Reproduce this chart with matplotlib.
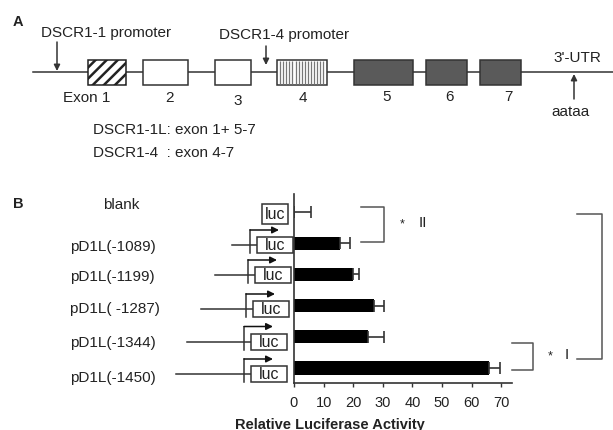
import matplotlib
matplotlib.use('Agg')
import matplotlib.pyplot as plt
from matplotlib.patches import Rectangle
import numpy as np

plt.rcParams['font.family'] = ['Liberation Sans', 'DejaVu Sans']
plt.rcParams['hatch.linewidth'] = 1.8

# ---------------- data ----------------
constructs = ['blank', 'pD1L(-1089)', 'pD1L(-1199)', 'pD1L( -1287)', 'pD1L(-1344)', 'pD1L(-1450)']
activity = [0, 15.5, 20, 27, 25, 66]
activity_err = [5.6, 3.5, 2, 3.5, 5.5, 3.5]
x_ticks = [0, 10, 20, 30, 40, 50, 60, 70]
x_label = 'Relative Luciferase Activity'

exon_labels = ['Exon 1', '2', '3', '4', '5', '6', '7']
exon_styles = ['hatch', 'white', 'white', 'vlines', 'dark', 'dark', 'dark']
isoform_notes = ['DSCR1-1L: exon 1+ 5-7', 'DSCR1-4  : exon 4-7']

# ---------------- layout (pixels) ----------------
W, H = 613, 431
exon_spans = [(88, 126), (143, 188), (215, 251), (277, 327), (354, 413), (426, 467), (480, 521)]
exon_label_x = [87, 170, 238, 303, 387, 449, 508]
exon_label_y = [98, 98, 101, 98, 97, 97, 97]
diag_y = [215, 246, 276, 310, 342.5, 375]          # luc box centres
label_y = [205, 247, 277, 309, 343, 378]
box_left = [262, 257, 255, 253, 251, 251]
line_start = [None, 232, 215, 201, 187, 176]

TXT = '#222222'
LINE = '#333333'

fig = plt.figure(figsize=(W / 100, H / 100), dpi=100)

# bar chart axes
ax_l, ax_r, ax_t, ax_b = 294, 512, 195, 384
ax = fig.add_axes([ax_l / W, (H - ax_b) / H, (ax_r - ax_l) / W, (ax_b - ax_t) / H])
ax.set_facecolor('none')
ypos = np.arange(len(constructs))
ax.barh(ypos, activity, height=0.42, color='black',
        xerr=[np.zeros(len(activity)), activity_err],
        error_kw=dict(ecolor=LINE, elinewidth=1.2, capsize=4, capthick=1.2))
ax.set_xlim(0, (ax_r - ax_l) / 2.96)
ax.set_ylim(5.48, -0.577)
ax.set_xticks(x_ticks)
ax.set_yticks([])
for s in ['top', 'right']:
    ax.spines[s].set_visible(False)
for s in ['left', 'bottom']:
    ax.spines[s].set_color(LINE)
    ax.spines[s].set_linewidth(1.2)
ax.tick_params(axis='x', length=3, width=1, color=LINE, labelsize=10.5,
               labelcolor=TXT, pad=6)

# overlay in pixel coordinates
ov = fig.add_axes([0, 0, 1, 1], zorder=5)
ov.set_xlim(0, W)
ov.set_ylim(H, 0)
ov.axis('off')
ov.patch.set_alpha(0)

# ---------- Panel A ----------
ov.text(18, 22, 'A', fontsize=10.5, fontweight='bold', color=TXT, ha='center', va='center')
ov.plot([33, W], [72.5, 72.5], color=LINE, lw=1.1, zorder=1)
ex_top, ex_bot = 61, 86
for (x0, x1), style, lab, lx, ly in zip(exon_spans, exon_styles, exon_labels, exon_label_x, exon_label_y):
    if style == 'hatch':
        r = Rectangle((x0, ex_top), x1 - x0, ex_bot - ex_top, facecolor='white',
                      edgecolor='#222222', hatch='///', lw=1.1, zorder=3)
    elif style == 'dark':
        r = Rectangle((x0, ex_top), x1 - x0, ex_bot - ex_top, facecolor='#5a5a5a',
                      edgecolor='#333333', lw=1.1, zorder=3)
    else:
        r = Rectangle((x0, ex_top), x1 - x0, ex_bot - ex_top, facecolor='white',
                      edgecolor='#333333', lw=1.1, zorder=3)
    ov.add_patch(r)
    if style == 'vlines':
        xs = np.arange(x0 + 3, x1 - 1, 3.1)
        ov.vlines(xs, ex_top + 1, ex_bot - 1, color='#777777', lw=0.9, zorder=4)
    ov.text(lx, ly, lab, fontsize=11, color=TXT, ha='center', va='center')

arrow_kw = dict(arrowstyle='-|>', color=LINE, lw=1.1, mutation_scale=9, shrinkA=0, shrinkB=0)
ov.text(41, 33, 'DSCR1-1 promoter', fontsize=11, color=TXT, ha='left', va='center')
ov.annotate('', xy=(57, 72), xytext=(57, 43), arrowprops=arrow_kw)
ov.text(219, 35, 'DSCR1-4 promoter', fontsize=11, color=TXT, ha='left', va='center')
ov.annotate('', xy=(266, 66), xytext=(266, 47), arrowprops=arrow_kw)
ov.text(577, 58, "3'-UTR", fontsize=11, color=TXT, ha='center', va='center')
ov.annotate('', xy=(574, 75), xytext=(574, 100), arrowprops=arrow_kw)
ov.text(571, 112, 'aataa', fontsize=11, color=TXT, ha='center', va='center')
ov.text(93, 130, isoform_notes[0], fontsize=11, color=TXT, ha='left', va='center')
ov.text(93, 153, isoform_notes[1], fontsize=11, color=TXT, ha='left', va='center')

# ---------- Panel B ----------
ov.text(18, 204, 'B', fontsize=10.5, fontweight='bold', color=TXT, ha='center', va='center')
for i, name in enumerate(constructs):
    cy = diag_y[i]
    bl = box_left[i]
    if i == 0:
        ov.text(121, label_y[i], name, fontsize=11, color=TXT, ha='center', va='center')
        bw, bh = 26, 20
    else:
        ov.text(70, label_y[i], name, fontsize=11, color=TXT, ha='left', va='center')
        bw, bh = 36, 16
        # promoter line
        ov.plot([line_start[i], bl], [cy, cy], color=LINE, lw=1.1)
        vx = bl - 7
        ay = cy - 15
        ov.plot([vx, vx], [cy + bh / 2, ay], color=LINE, lw=1.1)
        ov.annotate('', xy=(bl + 22, ay), xytext=(vx, ay),
                    arrowprops=dict(arrowstyle='-|>', color='#111111', lw=1.1,
                                    mutation_scale=10, shrinkA=0, shrinkB=0))
    ov.add_patch(Rectangle((bl, cy - bh / 2), bw, bh, facecolor='white',
                           edgecolor=LINE, lw=1.1, zorder=3))
    ov.text(bl + bw / 2, cy, 'luc', fontsize=11.5, color=TXT, ha='center', va='center', zorder=4)

# significance brackets
BR = '#555555'
def bracket(x0, x1, y0, y1):
    ov.plot([x0, x1, x1, x0], [y0, y0, y1, y1], color=BR, lw=1.1)

bracket(361, 384, 208, 243)
ov.text(402, 224, '*', fontsize=9, color=TXT, ha='center', va='center')
ov.text(423, 223, 'II', fontsize=11, color=TXT, ha='center', va='center')
bracket(512, 533, 344, 371)
ov.text(550, 356, '*', fontsize=9, color=TXT, ha='center', va='center')
ov.text(567, 355, 'I', fontsize=11, color=TXT, ha='center', va='center')
bracket(577, 602, 215, 360)

ov.text(330, 425, x_label, fontsize=10.5, fontweight='bold', color=TXT, ha='center', va='center')

fig.savefig('out.png', dpi=100, facecolor='white')
